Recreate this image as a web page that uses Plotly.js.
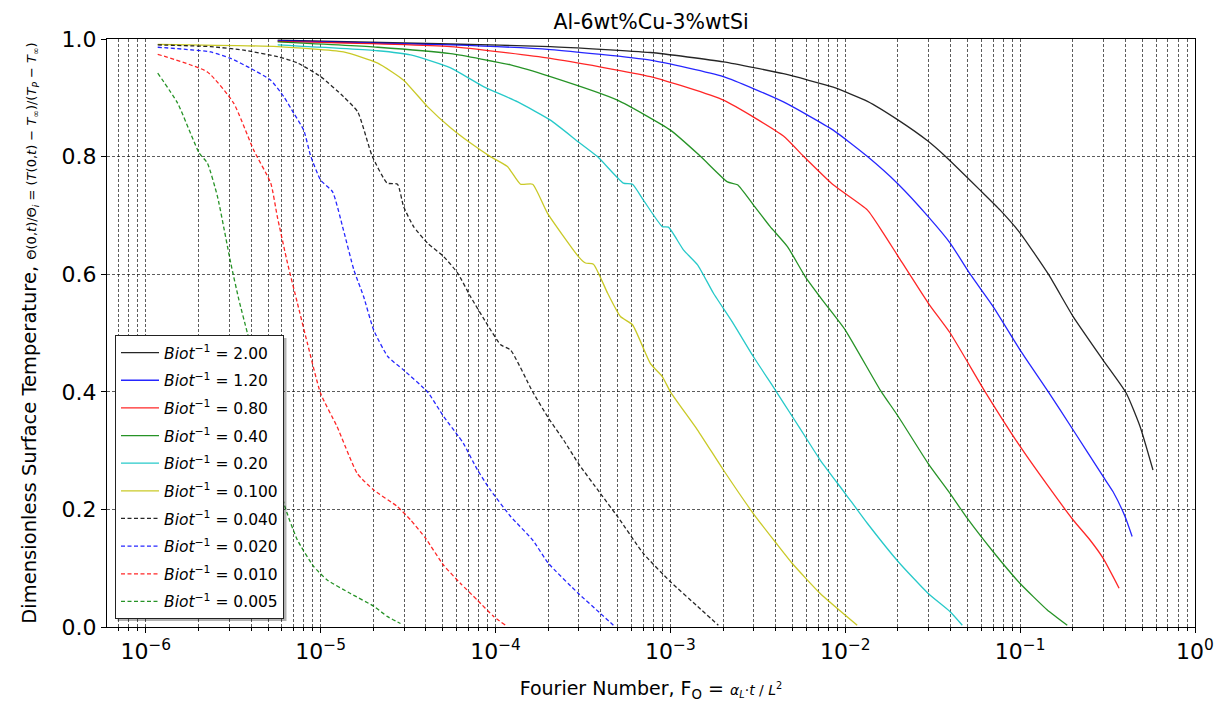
<!DOCTYPE html>
<html>
<head>
<meta charset="utf-8">
<script src="https://cdn.plot.ly/plotly-3.0.1.min.js"></script>
<style>
html,body{margin:0;padding:0;background:#fff;}
#chart{width:1221px;height:708px;}
</style>
</head>
<body>
<div id="chart"></div>
<script>
// ---------- DATA ----------
// Fourier number values (x) and dimensionless surface temperature (y) per Biot^-1 curve
const fo_200 = [5.68e-6,5.53e-5,2.06e-4,7.69e-4,2.01e-3,4.43e-3,8.53e-3,1.34e-2,2.01e-2,2.98e-2,3.72e-2,5.90e-2,7.69e-2,0.100,0.145,0.201,0.298,0.404,0.485,0.575];
const th_200 = [0.998,0.9915,0.987,0.977,0.961,0.941,0.918,0.894,0.862,0.826,0.801,0.743,0.709,0.670,0.600,0.528,0.454,0.398,0.341,0.267];

const fo_120 = [5.68e-6,5.53e-5,2.06e-4,7.69e-4,2.01e-3,4.43e-3,8.53e-3,1.34e-2,2.01e-2,2.98e-2,3.98e-2,5.18e-2,7.01e-2,0.100,0.145,0.201,0.298,0.340,0.398,0.437];
const th_120 = [0.997,0.990,0.982,0.964,0.936,0.893,0.845,0.800,0.753,0.698,0.653,0.600,0.545,0.471,0.400,0.335,0.256,0.230,0.188,0.154];

const fo_080 = [5.68e-6,5.53e-5,2.06e-4,7.69e-4,2.01e-3,4.43e-3,5.75e-3,8.53e-3,1.34e-2,1.65e-2,2.01e-2,2.98e-2,3.98e-2,6.31e-2,0.100,0.145,0.201,0.251,0.298,0.368];
const th_080 = [0.996,0.987,0.967,0.936,0.896,0.835,0.801,0.752,0.709,0.670,0.630,0.551,0.500,0.400,0.307,0.239,0.182,0.148,0.117,0.066];

const fo_040 = [5.68e-6,2.12e-5,5.53e-5,1.22e-4,2.06e-4,4.98e-4,1.00e-3,1.48e-3,2.12e-3,2.42e-3,2.98e-3,3.72e-3,4.67e-3,5.90e-3,7.40e-3,1.00e-2,1.585e-2,2.01e-2,2.98e-2,3.98e-2,4.98e-2,7.01e-2,0.100,0.143,0.186];
const th_040 = [0.995,0.986,0.975,0.956,0.936,0.896,0.845,0.801,0.757,0.752,0.718,0.681,0.647,0.596,0.556,0.505,0.403,0.358,0.278,0.227,0.185,0.128,0.074,0.029,0.003];

const fo_020 = [5.68e-6,2.12e-5,3.27e-5,5.53e-5,8.53e-5,1.34e-4,2.06e-4,2.98e-4,3.83e-4,5.38e-4,6.07e-4,7.01e-4,8.99e-4,9.75e-4,1.19e-3,1.43e-3,1.76e-3,2.29e-3,2.98e-3,4.04e-3,4.98e-3,6.07e-3,7.19e-3,1.00e-2,1.34e-2,2.01e-2,2.98e-2,3.98e-2,4.67e-2];
const th_020 = [0.990,0.980,0.973,0.951,0.919,0.893,0.862,0.825,0.800,0.755,0.753,0.726,0.681,0.680,0.641,0.616,0.568,0.516,0.460,0.400,0.358,0.318,0.284,0.227,0.176,0.111,0.057,0.026,0.003];

const fo_0100 = [1.17e-6,5.68e-6,1.35e-5,2.12e-5,2.98e-5,4.08e-5,5.53e-5,7.19e-5,9.35e-5,1.17e-4,1.39e-4,1.63e-4,1.98e-4,2.98e-4,3.27e-4,3.63e-4,4.37e-4,5.18e-4,6.07e-4,7.69e-4,8.99e-4,1.00e-3,1.43e-3,2.01e-3,2.98e-3,4.04e-3,4.98e-3,7.19e-3,1.17e-2];
const th_0100 = [0.991,0.987,0.978,0.959,0.930,0.885,0.849,0.823,0.800,0.783,0.753,0.753,0.704,0.630,0.619,0.617,0.568,0.528,0.514,0.448,0.426,0.400,0.335,0.267,0.193,0.142,0.108,0.057,0.003];

const fo_0040 = [1.17e-6,2.35e-6,3.63e-6,5.68e-6,7.40e-6,1.00e-5,1.35e-5,1.63e-5,1.97e-5,2.40e-5,2.75e-5,2.98e-5,3.40e-5,4.08e-5,5.05e-5,6.07e-5,7.19e-5,8.99e-5,1.07e-4,1.22e-4,1.63e-4,2.01e-4,2.45e-4,2.98e-4,3.98e-4,4.98e-4,7.01e-4,1.00e-3,1.43e-3,1.88e-3];
const th_0040 = [0.990,0.987,0.981,0.970,0.959,0.936,0.902,0.876,0.801,0.755,0.753,0.715,0.681,0.653,0.630,0.602,0.562,0.514,0.480,0.471,0.400,0.355,0.318,0.278,0.227,0.188,0.125,0.077,0.035,0.003];

const fo_0020 = [1.17e-6,2.35e-6,3.06e-6,3.98e-6,5.18e-6,6.15e-6,7.01e-6,8.00e-6,8.77e-6,1.00e-5,1.17e-5,1.35e-5,1.55e-5,1.76e-5,2.01e-5,2.42e-5,2.98e-5,4.08e-5,5.05e-5,6.15e-5,6.56e-5,7.89e-5,9.35e-5,1.22e-4,1.63e-4,2.01e-4,2.98e-4,3.98e-4,4.72e-4];
const th_0020 = [0.986,0.978,0.967,0.950,0.930,0.902,0.874,0.845,0.801,0.760,0.740,0.675,0.607,0.562,0.505,0.460,0.437,0.400,0.358,0.324,0.312,0.267,0.233,0.188,0.148,0.108,0.057,0.023,0.003];

const fo_0010 = [1.17e-6,2.25e-6,3.18e-6,4.14e-6,5.18e-6,5.65e-6,6.46e-6,7.36e-6,8.39e-6,1.00e-5,1.24e-5,1.62e-5,2.01e-5,2.74e-5,3.27e-5,3.98e-5,5.05e-5,6.31e-5,7.85e-5,9.75e-5,1.14e-4];
const th_0010 = [0.974,0.944,0.891,0.811,0.755,0.698,0.619,0.551,0.483,0.397,0.341,0.261,0.233,0.205,0.182,0.151,0.105,0.074,0.046,0.018,0.003];

const fo_0005 = [1.17e-6,1.52e-6,2.02e-6,2.25e-6,2.57e-6,3.06e-6,3.41e-6,3.81e-6,4.95e-6,6.17e-6,7.36e-6,9.12e-6,1.09e-5,1.48e-5,2.02e-5,2.40e-5,2.86e-5];
const th_0005 = [0.942,0.891,0.806,0.789,0.732,0.619,0.556,0.500,0.369,0.210,0.148,0.103,0.080,0.057,0.035,0.018,0.006];

const biotLabels = ["2.00","1.20","0.80","0.40","0.20","0.100","0.040","0.020","0.010","0.005"];
const xTickVals = [1e-6,1e-5,1e-4,1e-3,1e-2,1e-1,1];
const xTickText = ["10<sup>−6</sup>","10<sup>−5</sup>","10<sup>−4</sup>","10<sup>−3</sup>","10<sup>−2</sup>","10<sup>−1</sup>","10<sup>0</sup>"];
const yTickVals = [0.0,0.2,0.4,0.6,0.8,1.0];
const yTickText = ["0.0","0.2","0.4","0.6","0.8","1.0"];

// ---------- STYLE ----------
const seriesX = [fo_200,fo_120,fo_080,fo_040,fo_020,fo_0100,fo_0040,fo_0020,fo_0010,fo_0005];
const seriesY = [th_200,th_120,th_080,th_040,th_020,th_0100,th_0040,th_0020,th_0010,th_0005];
const colors = ["#000000","#0000ff","#ff0000","#008000","#00bfbf","#bfbf00","#000000","#0000ff","#ff0000","#008000"];
const dashes = ["solid","solid","solid","solid","solid","solid","4px,2.5px","4px,2.5px","4px,2.5px","4px,2.5px"];

const FONT = "DejaVu Sans, Verdana, sans-serif";

const traces = seriesX.map((xs, i) => ({
  type: "scatter",
  mode: "lines",
  x: xs,
  y: seriesY[i],
  name: "<i>Biot</i><sup>−1</sup> = " + biotLabels[i],
  legendgroup: "g" + i,
  line: {color: colors[i], width: 1.3, dash: dashes[i], shape: "spline", smoothing: 0.5},
  opacity: 0.85,
  hoverinfo: "x+y+name"
}));

// minor grid positions 2..9 x 10^k
const minorVals = [];
for (let k = -7; k <= -1; k++) {
  for (let m = 2; m <= 9; m++) {
    const v = m * Math.pow(10, k);
    if (v > 6.1e-7 && v < 1) minorVals.push(v);
  }
}

const gridColor = "rgba(0,0,0,0.8)";
const L0 = 107, T0 = 39, PW = 1088, PH = 588;
const px2x = p => (p - L0) / PW;
const px2y = p => (T0 + PH - p) / PH;

const layout = {
  width: 1221,
  height: 708,
  paper_bgcolor: "#ffffff",
  plot_bgcolor: "#ffffff",
  font: {family: FONT, color: "#000"},
  margin: {l: 107, r: 26, t: 39, b: 81, pad: 0},
  title: {
    text: "Al-6wt%Cu-3%wtSi",
    font: {family: FONT, size: 20.5, color: "#000"},
    x: 0.5, xref: "paper", xanchor: "center",
    y: 0.969, yref: "container", yanchor: "middle"
  },
  xaxis: {
    type: "log",
    range: [Math.log10(6e-7), 0],
    tickmode: "array",
    tickvals: xTickVals,
    ticktext: xTickText,
    tickfont: {family: FONT, size: 22, color: "#000"},
    ticks: "outside",
    ticklen: 5,
    tickcolor: "#000",
    showline: true,
    linecolor: "#000",
    linewidth: 1,
    mirror: true,
    showgrid: true,
    gridcolor: gridColor,
    gridwidth: 0.8,
    griddash: "3px,2px",
    zeroline: false,
    minor: {
      tickmode: "array",
      tickvals: minorVals,
      ticks: "outside",
      ticklen: 2.5,
      tickcolor: "#000",
      showgrid: true,
      gridcolor: gridColor,
      gridwidth: 0.8,
      griddash: "3px,2px"
    },
    title: {
      text: "Fourier Number, F<sub>O</sub> = <span style=\"font-size:14px\"><i>α<sub>L</sub></i>·<i>t</i> / <i>L</i><sup>2</sup></span>",
      font: {family: FONT, size: 19, color: "#000"},
      standoff: 18
    },
    automargin: false
  },
  yaxis: {
    range: [0, 1],
    tickmode: "array",
    tickvals: yTickVals,
    ticktext: yTickText,
    tickfont: {family: FONT, size: 22, color: "#000"},
    ticks: "outside",
    ticklen: 5,
    tickcolor: "#000",
    showline: true,
    linecolor: "#000",
    linewidth: 1,
    mirror: true,
    showgrid: true,
    gridcolor: gridColor,
    gridwidth: 0.8,
    griddash: "3px,2px",
    zeroline: false,
    title: {
      text: "Dimensionless Surface Temperature, <span style=\"font-size:13px\">Θ(0,<i>t</i>)/Θ<sub><i>i</i></sub> = (<i>T</i>(0,<i>t</i>) − <i>T</i><sub>∞</sub>)/(<i>T</i><sub><i>P</i></sub> − <i>T</i><sub>∞</sub>)</span>",
      font: {family: FONT, size: 19.5, color: "#000"},
      standoff: 19
    },
    automargin: false
  },
  showlegend: true,
  legend: {
    x: px2x(115), xref: "paper", xanchor: "left",
    y: px2y(335), yref: "paper", yanchor: "top",
    bgcolor: "#ffffff",
    bordercolor: "#222",
    borderwidth: 1,
    font: {family: FONT, size: 15.5, color: "#000"},
    tracegroupgap: 4.5,
    itemwidth: 38,
    traceorder: "grouped"
  },
  shapes: [
    {type: "rect", xref: "paper", yref: "paper", layer: "above",
     x0: px2x(117.5), x1: px2x(286.5),
     y0: px2y(621), y1: px2y(338),
     fillcolor: "rgba(0,0,0,0.3)", line: {width: 0}}
  ]
};

Plotly.newPlot("chart", traces, layout, {displayModeBar: false, staticPlot: true});
</script>
</body>
</html>
